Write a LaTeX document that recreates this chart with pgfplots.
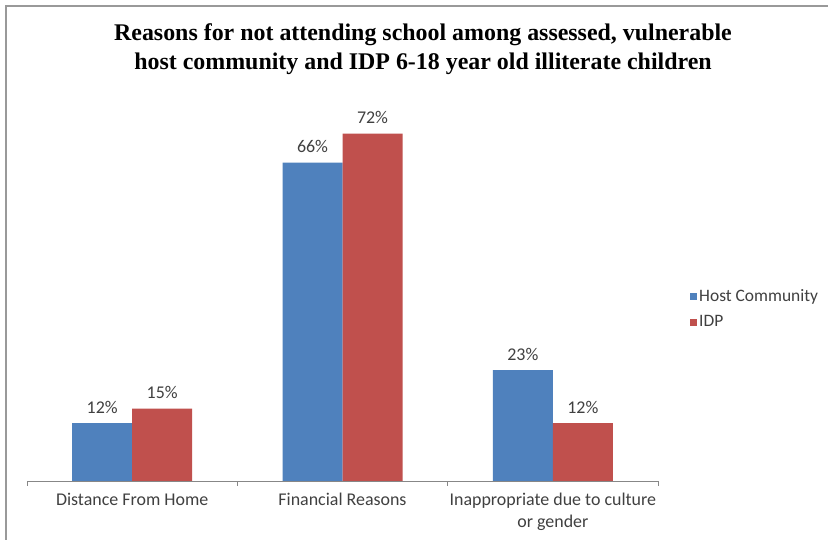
\documentclass[border=0pt]{standalone}
\usepackage{pgfplots}
\pgfplotsset{compat=1.18}
\usepackage{fontspec}
\setmainfont{Carlito}
\newfontfamily\titlefont{Liberation Serif}
\definecolor{hostc}{HTML}{4F81BD}
\definecolor{idpc}{HTML}{C0504D}
\definecolor{axgray}{HTML}{878787}
\definecolor{txt}{HTML}{404040}
\pgfplotstableread{
x host idp
0 12 15
1 66 72
2 23 12
}\datatab
\begin{document}
\begin{tikzpicture}[x=1bp,y=1bp]
\useasboundingbox (0,0) rectangle (828,540);
\fill[white] (0,0) rectangle (828,540);
\draw[gray!80, line width=1.2bp] (6,0) -- (6,534) -- (828,534);
\node[font=\titlefont\bfseries\fontsize{24}{29}\selectfont, align=center, text=black] at (423,491)
  {Reasons for not attending school among assessed, vulnerable\\host community and IDP 6-18 year old illiterate children};
\begin{axis}[
  at={(27bp,59bp)}, anchor=south west,
  scale only axis, width=631bp, height=386bp,
  xmin=-0.5, xmax=2.5, ymin=0, ymax=80,
  axis x line*=bottom, axis y line=none,
  x axis line style={draw=axgray, line width=0.8bp},
  xtick={0,1,2},
  xticklabels={Distance From Home, Financial Reasons, {Inappropriate due to culture\\or gender}},
  major tick length=0pt,
  extra x ticks={-0.5,0.5,1.5,2.5},
  extra x tick labels={},
  extra x tick style={tick align=outside, major tick length=5bp, tick style={draw=axgray, line width=0.8bp}},
  xticklabel style={font=\fontsize{18}{22}\selectfont, text=txt, align=center, yshift=-9bp},
  ybar, bar width=60bp,
  nodes near coords={\pgfmathprintnumber{\pgfplotspointmeta}\%},
  nodes near coords style={font=\fontsize{18}{18}\selectfont, text=txt, yshift=6bp, /pgf/number format/assume math mode=true},
  legend style={draw=none, at={(axis description cs:1.046,0.446)}, anchor=west, font=\fontsize{17.5}{17.5}\selectfont, text=txt, row sep=9bp, fill=none},
  legend cell align=left,
  legend image code/.code={\fill[#1] (-4bp,-3.5bp) rectangle (3bp,3.5bp);},
  clip=false,
]
\addplot[draw=none, fill=hostc, bar shift=-30bp] table[x=x, y=host] {\datatab};
\addplot[draw=none, fill=idpc, bar shift=30bp] table[x=x, y=idp] {\datatab};
\legend{Host Community, IDP}
\end{axis}
\end{tikzpicture}
\end{document}
